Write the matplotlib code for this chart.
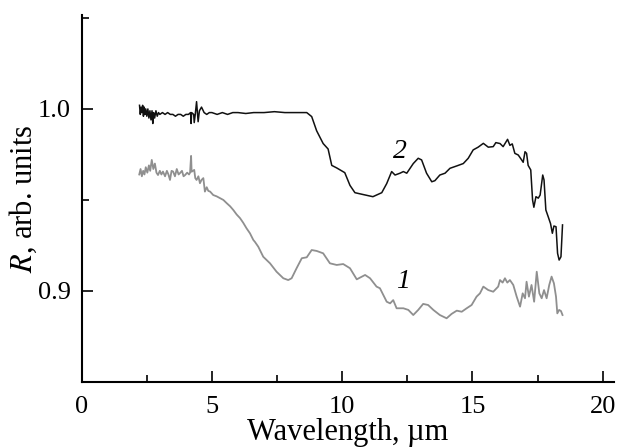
import matplotlib
matplotlib.use("Agg")
import matplotlib.pyplot as plt
from matplotlib.ticker import MultipleLocator

plt.rcParams['font.family'] = ['Liberation Serif', 'DejaVu Serif']
plt.rcParams['mathtext.fontset'] = 'stix'

# curve 2 (black)
x2 = [2.22, 2.25, 2.28, 2.31, 2.34, 2.37, 2.40, 2.43, 2.46, 2.50, 2.54, 2.58, 2.62, 2.66, 2.70, 2.73,
      2.76, 2.80, 2.85, 2.90, 2.95, 3.00, 3.10, 3.20, 3.30, 3.40, 3.50, 3.60, 3.70, 3.80, 3.90, 4.00,
      4.10, 4.18, 4.20, 4.22, 4.30, 4.32, 4.36, 4.41, 4.47, 4.52, 4.60, 4.70, 4.80, 4.90, 5.00, 5.20,
      5.40, 5.60, 5.80, 6.00, 6.30, 6.60, 7.00, 7.40, 7.80, 8.20, 8.50, 8.64, 8.83, 9.02, 9.27, 9.46,
      9.60, 9.79, 10.10, 10.30, 10.49, 10.80, 11.18, 11.52, 11.71, 11.90, 12.03, 12.22, 12.35, 12.48,
      12.73, 12.92, 13.05, 13.24, 13.44, 13.56, 13.75, 13.95, 14.14, 14.40, 14.65, 14.84, 15.03, 15.22,
      15.42, 15.61, 15.80, 15.90, 16.06, 16.18, 16.35, 16.44, 16.53, 16.63, 16.76, 16.89, 16.95, 17.02,
      17.08, 17.14, 17.24, 17.31, 17.36, 17.44, 17.53, 17.60, 17.70, 17.75, 17.82, 17.91, 18.00, 18.07,
      18.13, 18.21, 18.27, 18.33, 18.40, 18.46]
y2 = [1.002, 0.997, 1.001, 0.998, 1.002, 0.996, 1.001, 0.997, 1.000, 0.996, 1.000, 0.995, 0.999, 0.994,
      0.999, 0.992, 0.998, 0.995, 0.999, 0.996, 0.998, 0.997, 0.998, 0.997, 0.998, 0.997, 0.997, 0.996,
      0.997, 0.997, 0.996, 0.997, 0.997, 0.998, 0.992, 0.998, 0.997, 0.9925, 0.997, 1.004, 0.993, 0.999,
      1.001, 0.998, 0.997, 0.998, 0.998, 0.997, 0.998, 0.997, 0.998, 0.998, 0.9975, 0.998, 0.998, 0.9985,
      0.998, 0.998, 0.998, 0.998, 0.9958, 0.988, 0.981, 0.978, 0.969, 0.9676, 0.965, 0.958, 0.954, 0.953,
      0.9518, 0.954, 0.959, 0.9656, 0.9637, 0.9647, 0.9656, 0.9647, 0.970, 0.9729, 0.972, 0.9647, 0.960,
      0.9606, 0.9637, 0.9647, 0.9674, 0.9687, 0.970, 0.9729, 0.9775, 0.979, 0.9811, 0.979, 0.9793, 0.9815,
      0.981, 0.9793, 0.9833, 0.980, 0.9808, 0.9756, 0.9747, 0.972, 0.9707, 0.9765, 0.9756, 0.969, 0.9665,
      0.950, 0.946, 0.9518, 0.951, 0.9527, 0.9637, 0.961, 0.9445, 0.9408, 0.937, 0.9317, 0.9357, 0.9353,
      0.9207, 0.917, 0.9188, 0.9363]

# curve 1 (grey)
x1 = [2.21, 2.26, 2.31, 2.36, 2.41, 2.46, 2.52, 2.58, 2.63, 2.69, 2.75, 2.81, 2.87, 2.93, 3.00, 3.06,
      3.12, 3.20, 3.27, 3.33, 3.39, 3.45, 3.51, 3.58, 3.65, 3.72, 3.77, 3.85, 3.91, 3.97, 4.05, 4.12,
      4.16, 4.20, 4.22, 4.32, 4.36, 4.41, 4.48, 4.54, 4.60, 4.67, 4.73, 4.80, 4.86, 4.93, 5.05, 5.18,
      5.31, 5.44, 5.57, 5.70, 5.82, 5.95, 6.08, 6.20, 6.33, 6.46, 6.59, 6.65, 6.78, 6.97, 7.23, 7.48,
      7.74, 7.93, 8.06, 8.25, 8.45, 8.64, 8.83, 9.02, 9.27, 9.53, 9.79, 10.04, 10.30, 10.56, 10.88,
      11.07, 11.32, 11.45, 11.64, 11.71, 11.84, 11.96, 12.09, 12.35, 12.54, 12.73, 12.92, 13.11, 13.30,
      13.50, 13.75, 14.01, 14.20, 14.40, 14.59, 14.78, 14.97, 15.16, 15.29, 15.42, 15.61, 15.80, 15.99,
      16.06, 16.16, 16.25, 16.34, 16.44, 16.57, 16.70, 16.83, 16.93, 17.02, 17.08, 17.17, 17.27, 17.37,
      17.47, 17.57, 17.66, 17.75, 17.85, 17.95, 18.04, 18.13, 18.21, 18.26, 18.33, 18.40, 18.46]
y1 = [0.964, 0.967, 0.963, 0.966, 0.964, 0.968, 0.965, 0.969, 0.966, 0.972, 0.967, 0.970, 0.965, 0.9637,
      0.966, 0.964, 0.9656, 0.963, 0.966, 0.964, 0.961, 0.966, 0.9656, 0.963, 0.967, 0.964, 0.9647, 0.966,
      0.963, 0.9637, 0.965, 0.964, 0.965, 0.9742, 0.9655, 0.9665, 0.962, 0.961, 0.963, 0.9592, 0.961,
      0.962, 0.9546, 0.957, 0.955, 0.9546, 0.9527, 0.952, 0.951, 0.950, 0.9482, 0.9465, 0.9445, 0.942,
      0.940, 0.9375, 0.9344, 0.9317, 0.928, 0.927, 0.9243, 0.9188, 0.9152, 0.9106, 0.907, 0.906, 0.907,
      0.9125, 0.918, 0.9185, 0.9225, 0.922, 0.9207, 0.9152, 0.9143, 0.9148, 0.9125, 0.9064, 0.9088, 0.907,
      0.9024, 0.9015, 0.896, 0.8941, 0.8932, 0.895, 0.8905, 0.8905, 0.8896, 0.8868, 0.8896, 0.8929, 0.8923,
      0.8896, 0.8868, 0.885, 0.8874, 0.8892, 0.8886, 0.8905, 0.8923, 0.8969, 0.8987, 0.9024, 0.9005, 0.8996,
      0.9024, 0.906, 0.9046, 0.907, 0.9046, 0.906, 0.9033, 0.8969, 0.8914, 0.8987, 0.896, 0.9051, 0.8969,
      0.9033, 0.8941, 0.9106, 0.8987, 0.896, 0.9005, 0.896, 0.9033, 0.9079, 0.9042, 0.8969, 0.8877, 0.8896,
      0.889, 0.8868]

fig = plt.figure(figsize=(6.27, 4.48), dpi=100)
ax = fig.add_axes([0.1303, 0.1473, 0.979 - 0.1303, 0.9665 - 0.1473])

ax.plot(x1, y1, color='#8f8f8f', linewidth=1.3)
ax.plot(x2, y2, color='#111111', linewidth=1.1)

ax.text(12.2, 0.9765, '2', fontsize=20, style='italic', ha='center', va='center')
ax.text(12.33, 0.905, '1', fontsize=20, style='italic', ha='center', va='center')

ax.set_xlim(0, 20.43)
ax.set_ylim(0.85, 1.0516)
ax.xaxis.set_major_locator(MultipleLocator(5))
ax.xaxis.set_minor_locator(MultipleLocator(2.5))
ax.set_yticks([0.9, 1.0])
ax.set_yticklabels(['0.9', '1.0'])
ax.set_yticks([0.95, 1.05], minor=True)

for s in ['top', 'right']:
    ax.spines[s].set_visible(False)
for s in ['left', 'bottom']:
    ax.spines[s].set_linewidth(1.5)

ax.tick_params(which='both', direction='in', labelsize=19, width=1.2)
ax.tick_params(which='major', length=8)
ax.tick_params(which='minor', length=5)
ax.tick_params(axis='x', which='major', pad=10)
ax.tick_params(axis='y', which='major', pad=8)

ax.set_xlabel('Wavelength, \u00b5m', fontsize=22, labelpad=0)
ax.set_ylabel('$R$, arb. units', fontsize=22, labelpad=-1)

fig.savefig('out.png', dpi=100)
